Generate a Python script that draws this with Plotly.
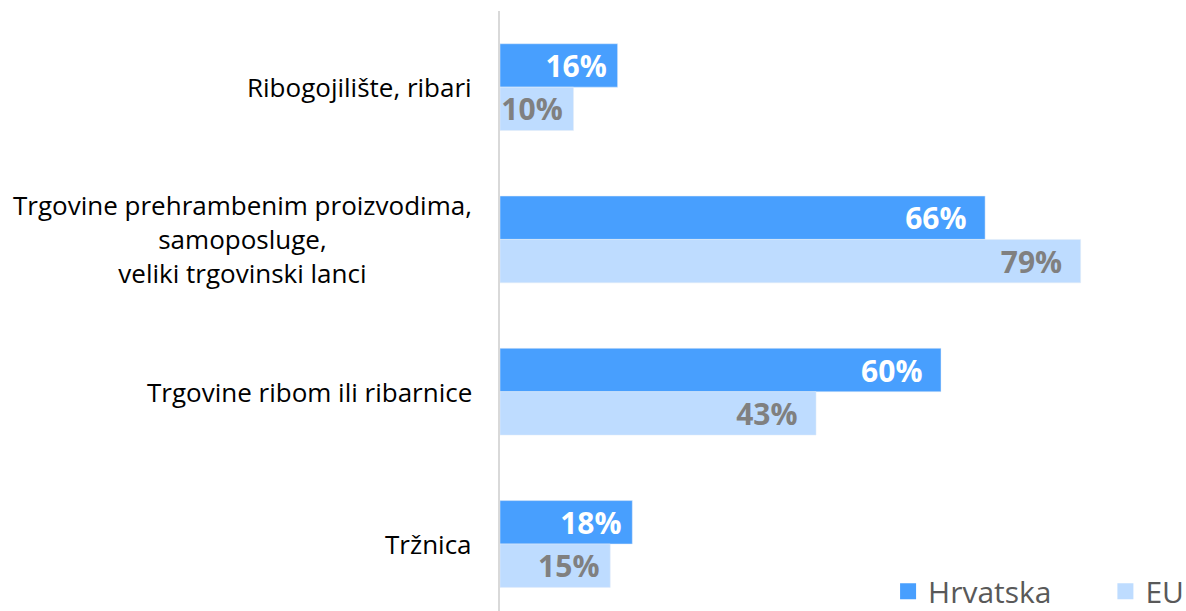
import plotly.graph_objects as go

categories = [
    "Ribogojilište, ribari",
    "Trgovine prehrambenim proizvodima,<br>samoposluge,<br>veliki trgovinski lanci",
    "Trgovine ribom ili ribarnice",
    "Tržnica",
]
series_names = ["Hrvatska", "EU"]
hrvatska = [16, 66, 60, 18]
eu = [10, 79, 43, 15]

C_HR = "#489ffe"
C_EU = "#bedcff"
FONT = "Open Sans"


def label(v):
    pad = "\u00a0\u00a0" if v >= 20 else "\u00a0"
    return f"{v}%{pad}"


fig = go.Figure()
fig.add_trace(go.Bar(
    y=list(range(len(categories))), x=hrvatska, orientation="h", name=series_names[0],
    marker=dict(color=C_HR), text=[label(v) for v in hrvatska],
    textposition="inside", insidetextanchor="end", constraintext="none", textangle=0,
    textfont=dict(family=FONT, size=30, color="white", weight="bold"),
    showlegend=False, hoverinfo="skip", cliponaxis=False,
))
fig.add_trace(go.Bar(
    y=list(range(len(categories))), x=eu, orientation="h", name=series_names[1],
    marker=dict(color=C_EU), text=[label(v) for v in eu],
    textposition="inside", insidetextanchor="end", constraintext="none", textangle=0,
    textfont=dict(family=FONT, size=30, color="#808080", weight="bold"),
    showlegend=False, hoverinfo="skip", cliponaxis=False,
))
for name, col, lg in zip(series_names, [C_HR, C_EU], ["legend", "legend2"]):
    fig.add_trace(go.Scatter(
        x=[None], y=[None], mode="markers", name=name, legend=lg,
        marker=dict(symbol="square", size=18, color=col),
    ))

for i, c in enumerate(categories):
    fig.add_annotation(
        x=0, xref="paper", xanchor="right", xshift=-26,
        y=i, yref="y", text=c, showarrow=False, align="center",
        font=dict(family=FONT, size=26, color="#000000"),
    )

leg_common = dict(orientation="h", yanchor="middle", y=0.033,
                  font=dict(family=FONT, size=30, color="#595959"),
                  bgcolor="rgba(0,0,0,0)", itemwidth=30)

fig.update_layout(
    width=1186, height=611,
    margin=dict(l=500, r=98, t=11, b=0, autoexpand=False),
    paper_bgcolor="white", plot_bgcolor="white",
    barmode="group", bargap=0.43, bargroupgap=0,
    xaxis=dict(range=[0, 80], showticklabels=False, showgrid=False, zeroline=False,
               showline=False, fixedrange=True),
    yaxis=dict(range=[3.44, -0.5], showticklabels=False, showgrid=False, zeroline=False,
               showline=True, linecolor="#d9d9d9", linewidth=2, fixedrange=True),
    legend=dict(x=0.660, xanchor="left", **leg_common),
    legend2=dict(x=1.0296, xanchor="left", **leg_common),
    font=dict(family=FONT),
)

fig.write_html("out.html")
